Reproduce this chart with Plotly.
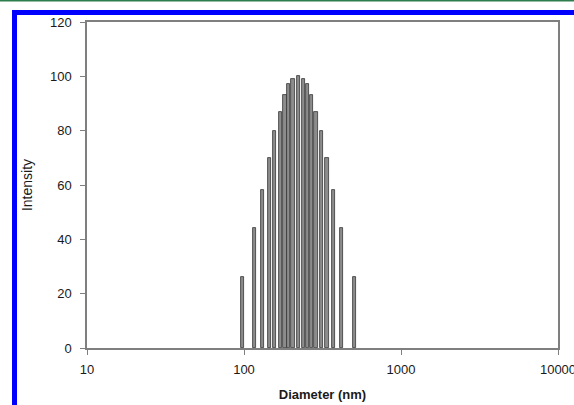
import plotly.graph_objects as go

# Data (diameter in nm, intensity)
diameter_nm = [97.4, 116.7, 131.3, 144.9, 157.4, 170.2, 182.4, 193.2, 205.1, 221.3,
               238.8, 253.5, 268.5, 287.7, 311.2, 338.1, 373.3, 419.8, 502.9]
intensity = [26, 44, 58, 70, 80, 87, 93, 97, 99, 100,
             99, 97, 93, 87, 80, 70, 58, 44, 26]
x_tick_vals = [10, 100, 1000, 10000]
x_tick_text = ["10", "100", "1000", "10000"]
y_tick_vals = [0, 20, 40, 60, 80, 100, 120]

FONT = "Liberation Sans, Arial, sans-serif"
AXIS_GRAY = "#7f7f7f"

# bar width: constant 0.02 decades on the log axis, expressed in nm
half = 0.01
bar_widths = [d * (10 ** half - 10 ** -half) for d in diameter_nm]

fig = go.Figure()
fig.add_trace(go.Bar(
    x=diameter_nm, y=intensity,
    width=bar_widths,
    marker=dict(color="#8c8c8c", line=dict(color="#333333", width=0.8)),
))

fig.update_layout(
    width=574, height=405, autosize=False,
    margin=dict(l=87, r=16, t=22, b=57),
    paper_bgcolor="white", plot_bgcolor="white",
    showlegend=False,
    font=dict(family=FONT, size=12, color="#1a1a1a"),
    bargap=0,
    shapes=[
        dict(type="rect", xref="paper", yref="paper",
             x0=-0.1539, x1=1.2, y0=-0.4, y1=1.029,
             line=dict(color="#0000ff", width=5), layer="below"),
        dict(type="line", xref="paper", yref="paper",
             x0=-0.3, x1=1.2, y0=1.066, y1=1.066,
             line=dict(color="#2e7d4f", width=2)),
    ],
)
fig.update_xaxes(
    type="log", range=[1, 4], automargin=False,
    tickvals=x_tick_vals, ticktext=x_tick_text,
    showline=True, linecolor=AXIS_GRAY, linewidth=1.5, mirror=True,
    ticks="outside", ticklen=5, tickcolor=AXIS_GRAY, ticklabelstandoff=4,
    ticklabeloverflow="allow",
    showgrid=False, zeroline=False,
    tickfont=dict(size=13),
    title=dict(text="<b>Diameter (nm)</b>", font=dict(size=13), standoff=14),
)
fig.update_yaxes(
    range=[0, 120], tickvals=y_tick_vals, automargin=False,
    showline=True, linecolor=AXIS_GRAY, linewidth=1.5, mirror=True,
    ticks="outside", ticklen=5, tickcolor=AXIS_GRAY, ticklabelstandoff=6,
    showgrid=False, zeroline=False,
    tickfont=dict(size=13),
    title=dict(text="Intensity", font=dict(size=14), standoff=14),
)

fig.write_html(
    "out.html",
    config={"displayModeBar": False, "responsive": False},
    post_script="document.body.style.margin='0';"
                "Plotly.relayout('{plot_id}', {width: 574, height: 405});",
)
